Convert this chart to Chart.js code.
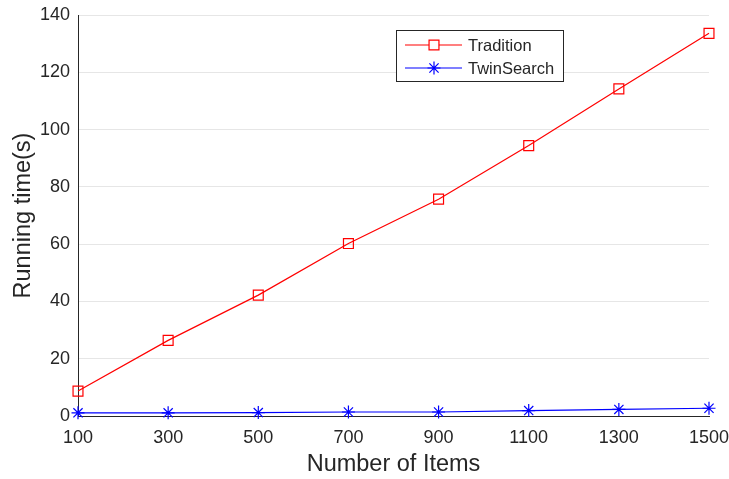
<!DOCTYPE html>
<html>
<head>
<meta charset="utf-8">
<script src="https://cdn.jsdelivr.net/npm/chart.js@4"></script>
<style>
  html, body { margin: 0; padding: 0; background: #fff; }
  #wrap { width: 729px; height: 479px; }
</style>
</head>
<body>
<div id="wrap"><canvas id="timeChart" width="729" height="479"></canvas></div>
<script>
// Data
const items = [100, 300, 500, 700, 900, 1100, 1300, 1500];
const traditionTimes = [8.7, 26.4, 42.2, 60.2, 75.7, 94.4, 114.2, 133.6];
const twinSearchTimes = [1.1, 1.1, 1.2, 1.4, 1.4, 1.9, 2.3, 2.7];
const seriesNames = ["Tradition", "TwinSearch"];
const seriesColors = ["#ff0000", "#0000ff"];

const textColor = "#262626";
const fontFamily = "Liberation Sans, Arial, sans-serif";

// MATLAB-style legend box drawn inside the plot area
const boxLegend = {
  id: "boxLegend",
  afterDraw(chart) {
    const ctx = chart.ctx;
    const area = chart.chartArea;
    const x0 = area.left + 318;
    const y0 = area.top + 15;
    const w = 167;
    const h = 51;

    ctx.save();
    ctx.fillStyle = "#fff";
    ctx.fillRect(x0, y0, w, h);
    ctx.strokeStyle = textColor;
    ctx.lineWidth = 1;
    ctx.strokeRect(x0 + 0.5, y0 + 0.5, w, h);

    ctx.font = "16.5px " + fontFamily;
    ctx.textBaseline = "middle";

    chart.data.datasets.forEach((ds, i) => {
      const y = y0 + 15 + i * 23;
      ctx.strokeStyle = ds.borderColor;
      ctx.lineWidth = 1.2;
      ctx.beginPath();
      ctx.moveTo(x0 + 9, y);
      ctx.lineTo(x0 + 66, y);
      ctx.stroke();
      Chart.helpers.drawPoint(ctx, {
        pointStyle: ds.pointStyle,
        radius: ds.pointRadius,
        borderWidth: 1.2
      }, x0 + 38, y);
      ctx.fillStyle = textColor;
      ctx.fillText(ds.label, x0 + 72, y + 1);
    });
    ctx.restore();
  }
};

function makeDataset(name, values, color, style, radius) {
  return {
    label: name,
    data: items.map((x, i) => ({ x: x, y: values[i] })),
    borderColor: color,
    backgroundColor: "rgba(0,0,0,0)",
    borderWidth: 1.2,
    pointStyle: style,
    pointRadius: radius,
    pointBorderColor: color,
    pointBorderWidth: 1.2,
    pointBackgroundColor: "rgba(0,0,0,0)",
    tension: 0,
    clip: false
  };
}

const ctx = document.getElementById("timeChart").getContext("2d");

new Chart(ctx, {
  type: "line",
  data: {
    datasets: [
      makeDataset(seriesNames[0], traditionTimes, seriesColors[0], "rect", 7),
      makeDataset(seriesNames[1], twinSearchTimes, seriesColors[1], "star", 6.5)
    ]
  },
  options: {
    responsive: false,
    animation: false,
    layout: { padding: { left: 0, right: 20, top: 15, bottom: 0 } },
    plugins: {
      legend: { display: false },
      tooltip: { enabled: false }
    },
    scales: {
      x: {
        type: "linear",
        min: 100,
        max: 1500,
        afterBuildTicks(scale) {
          scale.ticks = items.map(v => ({ value: v }));
        },
        grid: { display: false, drawTicks: false },
        border: { display: true, color: textColor, width: 1 },
        ticks: {
          color: textColor,
          font: { family: fontFamily, size: 18 },
          padding: 11,
          maxRotation: 0,
          callback: v => String(v)
        },
        title: {
          display: true,
          text: "Number of Items",
          color: textColor,
          font: { family: fontFamily, size: 23.5 },
          padding: { top: 0, bottom: 0 }
        },
        afterFit(scale) {
          scale.height = 63;
          scale.paddingLeft = 0;
          scale.paddingRight = 0;
        }
      },
      y: {
        min: 0,
        max: 140,
        ticks: {
          stepSize: 20,
          color: textColor,
          font: { family: fontFamily, size: 18 },
          padding: 8
        },
        grid: { color: "#e6e6e6", drawTicks: false },
        border: { display: true, color: textColor, width: 1 },
        title: {
          display: true,
          text: "Running time(s)",
          color: textColor,
          font: { family: fontFamily, size: 23.5 },
          padding: { top: 9, bottom: 0 }
        },
        afterFit(scale) {
          scale.width = 78;
          scale.paddingTop = 0;
          scale.paddingBottom = 0;
        }
      }
    }
  },
  plugins: [boxLegend]
});
</script>
</body>
</html>
